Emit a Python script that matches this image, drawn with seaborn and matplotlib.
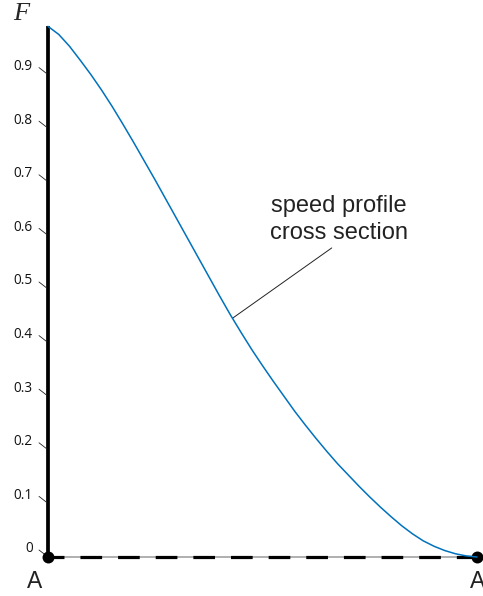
import numpy as np
import matplotlib
matplotlib.use("Agg")
import matplotlib.pyplot as plt
import seaborn as sns

# position along the cross section A-A (0..1) and the speed profile value F
pos = [0.000, 0.025, 0.050, 0.075, 0.100, 0.125, 0.150, 0.175, 0.200, 0.225,
       0.250, 0.275, 0.300, 0.325, 0.350, 0.375, 0.400, 0.425, 0.450, 0.475,
       0.500, 0.525, 0.550, 0.575, 0.600, 0.625, 0.650, 0.675, 0.700, 0.725,
       0.750, 0.775, 0.800, 0.825, 0.850, 0.875, 0.900, 0.925, 0.950, 0.975,
       1.000]
F = [0.990, 0.975, 0.953, 0.927, 0.900, 0.871, 0.840, 0.807, 0.773, 0.738,
     0.703, 0.667, 0.631, 0.595, 0.559, 0.523, 0.487, 0.452, 0.419, 0.387,
     0.357, 0.328, 0.300, 0.272, 0.246, 0.221, 0.197, 0.174, 0.153, 0.132,
     0.112, 0.093, 0.075, 0.058, 0.043, 0.030, 0.020, 0.012, 0.006, 0.002,
     0.000]

yticks = [0, 0.1, 0.2, 0.3, 0.4, 0.5, 0.6, 0.7, 0.8, 0.9]
ytick_labels = ["0", "0.1", "0.2", "0.3", "0.4", "0.5", "0.6", "0.7", "0.8", "0.9"]
end_labels = ["A", "A"]
curve_label = "speed profile\ncross section"

sns.set_style("white")
plt.rcParams["font.family"] = ["Liberation Sans", "DejaVu Sans"]
plt.rcParams["lines.scale_dashes"] = False

fig = plt.figure(figsize=(4.83, 5.96), dpi=100)
ax = fig.add_axes([48 / 483, 39 / 596, 429 / 483, 536 / 596])
ax.set_xlim(0, 1)
ax.set_ylim(0, 1)
ax.axis("off")

# baseline A-A: thin grey line with thick black dashes
ax.plot([pos[0], pos[-1]], [0, 0], color="#9a9a9a", lw=1.1, zorder=2)
ax.plot([pos[0], pos[-1]], [0, 0], color="black", lw=2.3,
        linestyle=(4.1, (15.6, 11.5)), dash_capstyle="butt", zorder=3)

# vertical axis
ax.plot([pos[0], pos[0]], [0, F[0]], color="black", lw=2.7,
        solid_capstyle="butt", zorder=3)

# end points
ax.scatter([pos[0], pos[-1]], [0, 0], s=8.6 ** 2, color="black", zorder=4,
           linewidths=0)

# the profile curve
sns.lineplot(x=pos, y=F, color="#0072BD", lw=1.1, ax=ax, zorder=5)

# slanted tick marks and labels
for v, lab in zip(yticks, ytick_labels):
    ax.annotate(lab, xy=(0, v), xytext=(-15, 8), textcoords="offset pixels",
                ha="right", va="center", fontsize=9.8,
                family=["Open Sans", "DejaVu Sans"], color="#111111")
    ax.annotate("", xy=(0, v), xytext=(-9, 7), textcoords="offset pixels",
                arrowprops=dict(arrowstyle="-", lw=0.6, color="#222222",
                                shrinkA=0, shrinkB=1))

# axis name
fig.text(21 / 483, 1 - 14 / 596, "F", family=["Liberation Serif", "DejaVu Serif"],
         style="italic", fontsize=19, ha="center", va="center")

# section end labels
ax.annotate(end_labels[0], xy=(pos[0], 0), xytext=(-13, -25),
            textcoords="offset pixels", ha="center", va="center",
            fontsize=16.5, color="#222222")
ax.annotate(end_labels[1], xy=(pos[-1], 0), xytext=(1, -25),
            textcoords="offset pixels", ha="center", va="center",
            fontsize=16.5, color="#222222")

# curve label with leader line
x_pt = 0.43
y_pt = float(np.interp(x_pt, pos, F))
ax.annotate(curve_label, xy=(x_pt, y_pt), xytext=(0.678, 0.630),
            ha="center", va="center", fontsize=17, linespacing=1.3,
            color="#222222",
            arrowprops=dict(arrowstyle="-", lw=0.7, color="#222222",
                            relpos=(0.49, 0.0), shrinkA=1, shrinkB=0))

for art in ax.get_children():
    try:
        art.set_clip_on(False)
    except Exception:
        pass

fig.savefig("out.png", dpi=100)
